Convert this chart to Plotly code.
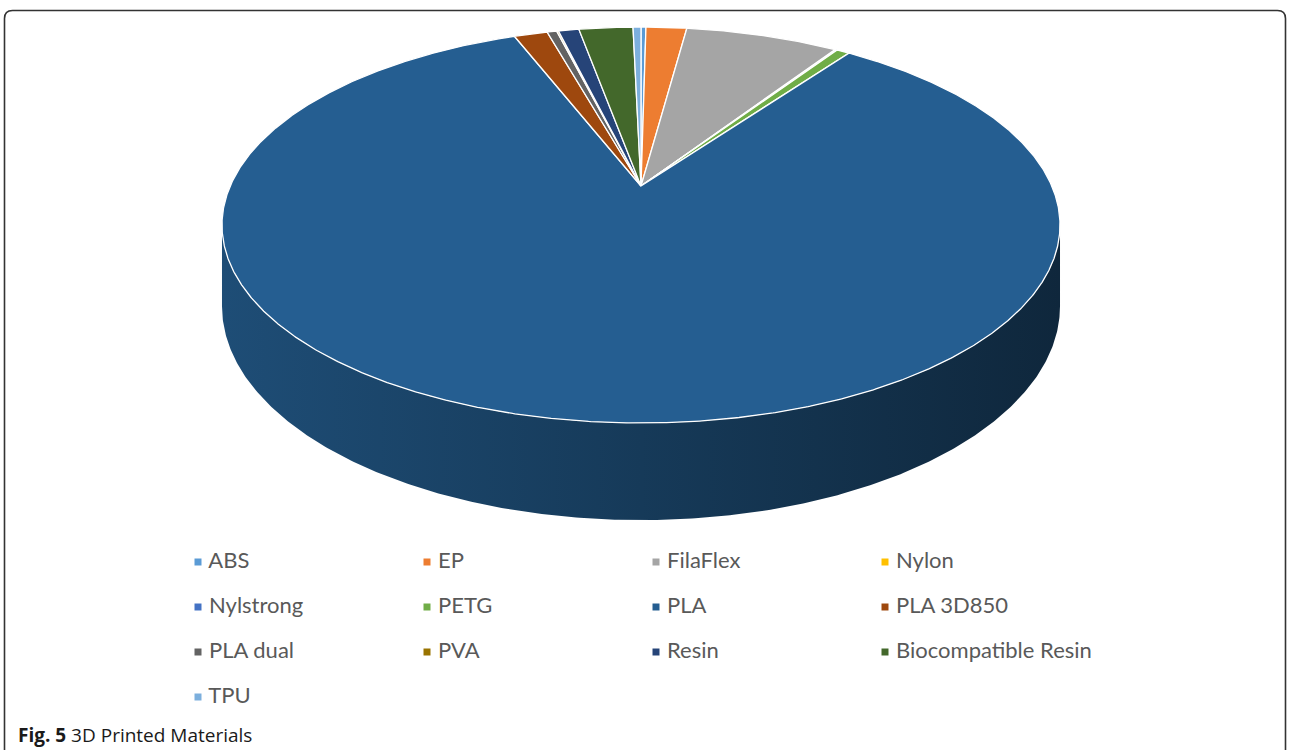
import numpy as np
import plotly.graph_objects as go

# ---- data (percent share of printed parts) ----
materials = ["ABS", "EP", "FilaFlex", "Nylon", "Nylstrong", "PETG", "PLA",
             "PLA 3D850", "PLA dual", "PVA", "Resin", "Biocompatible Resin", "TPU"]
shares = [0.23, 1.90, 7.14, 0.03, 0.08, 0.60, 84.08,
          1.56, 0.45, 0.08, 0.96, 2.52, 0.37]
colors = ["#5B9BD5", "#ED7D31", "#A5A5A5", "#FFC000", "#4472C4", "#70AD47", "#255E91",
          "#9E480E", "#636363", "#997300", "#264478", "#43682B", "#7CAFDD"]
caption_bold = "Fig. 5"
caption_text = "3D Printed Materials"

# ---- pseudo-3D pie geometry (pixel space) ----
CX, CY = 641, 186        # apex of the pie on screen
A, B = 410.8, 190.3      # horizontal / vertical radii
P = 0.197                # perspective factor
H = 78.0                 # thickness


def rim(theta, drop=0.0):
    w = 1 + P * np.cos(theta)
    return CX + A * np.sin(theta) / w, CY - B * np.cos(theta) / w + drop * H / w


def hex_scale(c, f):
    c = c.lstrip("#")
    r, g, b = (int(c[i:i + 2], 16) for i in (0, 2, 4))
    return "rgb(%d,%d,%d)" % (r * f, g * f, b * f)


total = sum(shares)
bounds = np.concatenate([[0], np.cumsum(shares)]) / total * 2 * np.pi

fig = go.Figure()

# side wall (front, visible half only)
t_right = np.arccos(-P)
t_left = 2 * np.pi - t_right
for i, c in enumerate(colors):
    a0, a1 = max(bounds[i], t_right), min(bounds[i + 1], t_left)
    if a1 <= a0:
        continue
    t = np.linspace(a0, a1, 400)
    xt, yt = rim(t)
    xb, yb = rim(t[::-1], drop=1.0)
    fig.add_trace(go.Scatter(
        x=np.concatenate([xt, xb, xt[:1]]), y=np.concatenate([yt, yb, yt[:1]]),
        mode="lines", fill="toself", line=dict(width=0),
        fillgradient=dict(type="horizontal",
                          colorscale=[[0, hex_scale(c, 0.82)], [0.5, hex_scale(c, 0.62)],
                                      [1, hex_scale(c, 0.42)]]),
        hoverinfo="skip", showlegend=False))

# top face wedges
for i, (name, c) in enumerate(zip(materials, colors)):
    a0, a1 = bounds[i], bounds[i + 1]
    n = max(3, int((a1 - a0) / np.radians(0.25)) + 2)
    t = np.linspace(a0, a1, n)
    xr, yr = rim(t)
    fig.add_trace(go.Scatter(
        x=np.concatenate([[CX], xr, [CX]]), y=np.concatenate([[CY], yr, [CY]]),
        mode="lines", fill="toself", fillcolor=c,
        line=dict(color="white", width=1.3),
        name=name, hovertemplate=f"{name}: {shares[i]:.2f}%<extra></extra>",
        showlegend=False))

# manual legend grid (4 columns)
cols = 4
leg_x0, leg_dx = 198, 229
leg_y0, leg_dy = 562, 45
lx = [leg_x0 + (i % cols) * leg_dx for i in range(len(materials))]
ly = [leg_y0 + (i // cols) * leg_dy for i in range(len(materials))]
fig.add_trace(go.Scatter(
    x=lx, y=ly, mode="markers+text", text=[" " + m for m in materials],
    textposition="middle right",
    textfont=dict(family="Lato, Open Sans, sans-serif", size=22, color="#595959"),
    marker=dict(symbol="square", size=7, color=colors),
    hoverinfo="skip", showlegend=False))

# caption
fig.add_annotation(x=16, y=735, xref="x", yref="y", xanchor="left", yanchor="middle",
                   text=f"<b>{caption_bold}</b> {caption_text}", showarrow=False,
                   font=dict(family="Open Sans, sans-serif", size=19, color="#1a1a1a"))

# rounded frame
r = 8
x0, y0, x1, y1 = 4.5, 10.5, 1285.5, 790
fig.add_shape(type="path", xref="x", yref="y",
              path=(f"M {x0},{y1} L {x0},{y0 + r} Q {x0},{y0} {x0 + r},{y0} "
                    f"L {x1 - r},{y0} Q {x1},{y0} {x1},{y0 + r} L {x1},{y1}"),
              line=dict(color="#333333", width=1.6))

fig.update_layout(
    width=1290, height=750, margin=dict(l=0, r=0, t=0, b=0),
    paper_bgcolor="white", plot_bgcolor="white", showlegend=False,
    xaxis=dict(range=[0, 1290], visible=False, fixedrange=True),
    yaxis=dict(range=[750, 0], visible=False, fixedrange=True),
)

fig.write_html("out.html", config={"displayModeBar": False},
               post_script="document.body.style.margin='0';document.body.style.overflow='hidden';")
